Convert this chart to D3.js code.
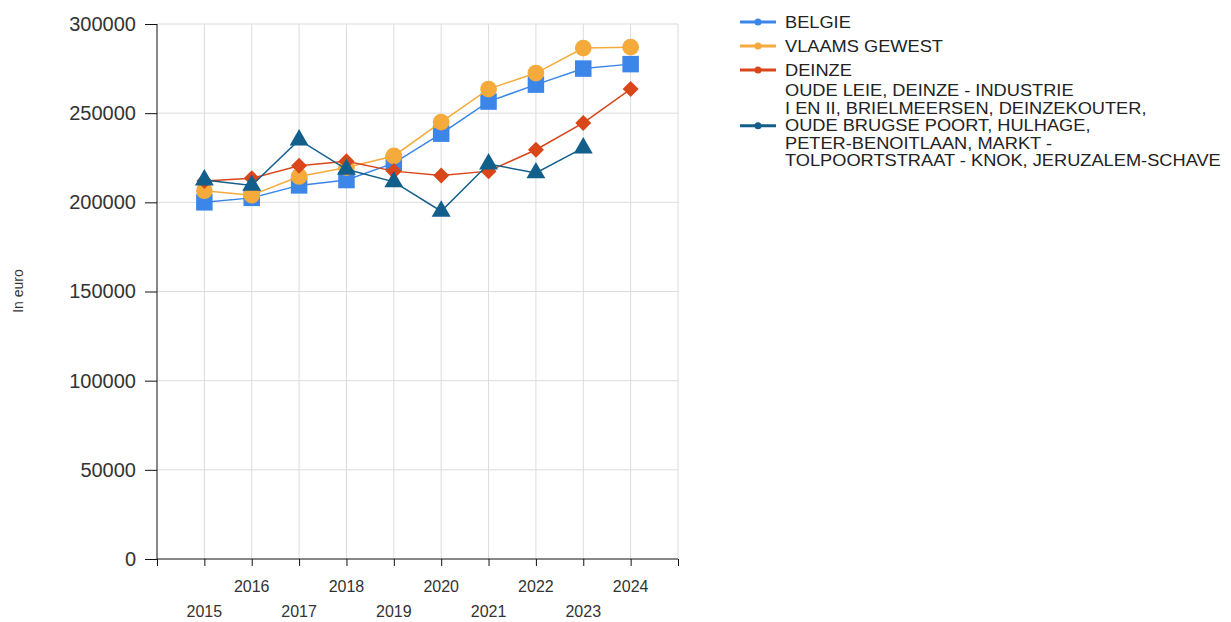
<!DOCTYPE html>
<html>
<head>
<meta charset="utf-8">
<script src="https://cdn.jsdelivr.net/npm/d3@7"></script>
<style>
    body { margin: 0; background: #fff; }
    svg { font-family: "Liberation Sans", Arial, sans-serif; }
    .grid line { stroke: #dcdcdc; stroke-width: 1; }
    .axis path, .axis line { stroke: #111; }
    .axis text { fill: #333; }
</style>
</head>
<body>
<svg id="chart" width="1231" height="622"></svg>
<script>
let years = [2015, 2016, 2017, 2018, 2019, 2020, 2021, 2022, 2023, 2024];
let yTicks = [0, 50000, 100000, 150000, 200000, 250000, 300000];

let belgie = [200000, 202500, 209500, 212500, 222000, 238500, 256500, 266000, 275000, 277500];
let vlaamsGewest = [206500, 204000, 214500, 219500, 226000, 245000, 263500, 272500, 286500, 287000];
let deinze = [212000, 213500, 220500, 223000, 217500, 215000, 217500, 229500, 244500, 263500];
let wijk = [212500, 209500, 235000, 218500, 211500, 195000, 221500, 216500, 230500, null];

let seriesNames = [
    ["BELGIE"],
    ["VLAAMS GEWEST"],
    ["DEINZE"],
    ["OUDE LEIE, DEINZE - INDUSTRIE", "I EN II, BRIELMEERSEN, DEINZEKOUTER,", "OUDE BRUGSE POORT, HULHAGE,", "PETER-BENOITLAAN, MARKT -", "TOLPOORTSTRAAT - KNOK, JERUZALEM-SCHAVE"],
];
let seriesValues = [belgie, vlaamsGewest, deinze, wijk];
let seriesColors = ["#3b86e8", "#f5aa3c", "#d9461a", "#135f8c"];
let seriesSymbols = ["square", "circle", "diamond", "triangle"];

let svg = d3.select("#chart");
let plotLeft = 157, plotRight = 678, plotTop = 24, plotBottom = 559;

// one extra step on either side of the years, like the original
let x = d3.scaleLinear().domain([-1, years.length]).range([plotLeft, plotRight]);
let y = d3.scaleLinear().domain([0, 300000]).range([plotBottom, plotTop]);

let grid = svg.append("g").attr("class", "grid");
grid.selectAll(".v")
    .data(d3.range(0, years.length + 1))
    .enter().append("line")
    .attr("x1", i => x(i)).attr("x2", i => x(i))
    .attr("y1", plotTop).attr("y2", plotBottom);
grid.selectAll(".h")
    .data(yTicks.filter(t => t > 0))
    .enter().append("line")
    .attr("x1", plotLeft).attr("x2", plotRight)
    .attr("y1", t => y(t)).attr("y2", t => y(t));

let yAxis = svg.append("g")
    .attr("class", "axis")
    .attr("transform", `translate(${plotLeft},0)`)
    .call(d3.axisLeft(y).tickValues(yTicks).tickFormat(d3.format("d")).tickSize(12).tickSizeOuter(0).tickPadding(9));
yAxis.selectAll("text").style("font-size", "20px");
yAxis.select(".domain").attr("d", `M0,${plotTop}V${plotBottom}`);

let xAxis = svg.append("g")
    .attr("class", "axis")
    .attr("transform", `translate(0,${plotBottom})`)
    .call(d3.axisBottom(x).tickValues(d3.range(-1, years.length + 1)).tickFormat("").tickSize(7).tickSizeOuter(0));
xAxis.select(".domain").attr("d", `M${plotLeft},0H${plotRight}`);

svg.append("g")
    .selectAll("text")
    .data(years)
    .enter().append("text")
    .attr("x", (d, i) => x(i))
    .attr("y", (d, i) => i % 2 == 1 ? 592 : 617)
    .attr("text-anchor", "middle")
    .style("font-size", "16px")
    .style("fill", "#333")
    .text(d => d);

svg.append("text")
    .attr("transform", "translate(23,291) rotate(-90)")
    .attr("text-anchor", "middle")
    .style("font-size", "14px")
    .style("fill", "#333")
    .text("In euro");

function symbolPath(kind) {
    if (kind == "square") return d3.symbol(d3.symbolSquare, 272)();
    if (kind == "circle") return d3.symbol(d3.symbolCircle, 220)();
    if (kind == "diamond") return d3.symbol(d3.symbolSquare, 128)();
    return d3.symbol(d3.symbolTriangle, 155)();
}

let line = d3.line()
    .defined(v => v !== null)
    .x((v, i) => x(i))
    .y(v => y(v));

seriesValues.forEach((values, s) => {
    let g = svg.append("g");
    g.append("path")
        .datum(values)
        .attr("d", line)
        .attr("fill", "none")
        .attr("stroke", seriesColors[s])
        .attr("stroke-width", 1.5);
    g.selectAll("path.marker")
        .data(values.map((v, i) => [i, v]).filter(p => p[1] !== null))
        .enter().append("path")
        .attr("class", "marker")
        .attr("d", symbolPath(seriesSymbols[s]))
        .attr("transform", p => `translate(${x(p[0])},${y(p[1])})` + (seriesSymbols[s] == "diamond" ? " rotate(45)" : ""))
        .attr("fill", seriesColors[s]);
});

// legend (text is a bit wider than Arial in the original, so stretch it)
let legend = svg.append("g");
let legendText = legend.append("g").attr("transform", "translate(785,0) scale(1.14,1)");
let lineHeight = 17.5, itemY = 10;
seriesNames.forEach((lines, s) => {
    let itemHeight = Math.max(24, lines.length * lineHeight);
    let cy = itemY + itemHeight / 2;
    legend.append("line")
        .attr("x1", 740).attr("x2", 776)
        .attr("y1", cy).attr("y2", cy)
        .attr("stroke", seriesColors[s])
        .attr("stroke-width", 3);
    legend.append("circle")
        .attr("cx", 758).attr("cy", cy).attr("r", 3.5)
        .attr("fill", seriesColors[s]);
    lines.forEach((t, k) => {
        legendText.append("text")
            .attr("x", 0)
            .attr("y", cy + (k - (lines.length - 1) / 2) * lineHeight)
            .attr("dy", "0.35em")
            .style("font-size", "16px")
            .style("fill", "#222")
            .text(t);
    });
    itemY += itemHeight;
});
</script>
</body>
</html>
